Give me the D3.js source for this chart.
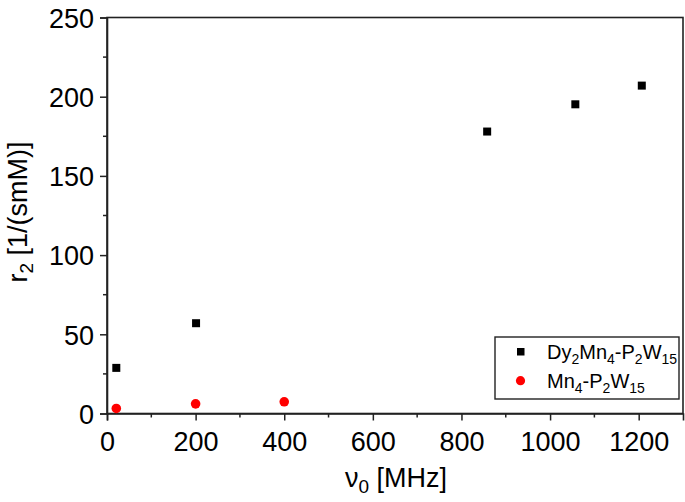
<!DOCTYPE html>
<html><head><meta charset="utf-8">
<script src="https://cdn.jsdelivr.net/npm/d3@7"></script>
<style>body{margin:0;background:#fff}svg{display:block}text{font-family:"Liberation Sans",Arial,sans-serif}</style>
</head><body>
<script>
const seriesNames = ["Dy2Mn4-P2W15", "Mn4-P2W15"];
const dyX = [21, 201, 858, 1057, 1207];
const dyY = [28.8, 57, 178, 195.2, 207];
const mnX = [21, 200, 400];
const mnY = [3.2, 6.1, 7.4];
const xTicks = [0, 200, 400, 600, 800, 1000, 1200];
const yTicks = [0, 50, 100, 150, 200, 250];

const W = 685, H = 502;
const svg = d3.select("body").append("svg").attr("width", W).attr("height", H);
const x = d3.scaleLinear().domain([0, 1300]).range([107, 683]);
const y = d3.scaleLinear().domain([0, 250]).range([413.5, 17.5]);

// frame
svg.append("rect").attr("x", x(0)).attr("y", y(250)).attr("width", x(1300) - x(0)).attr("height", y(0) - y(250))
  .attr("fill", "none").attr("stroke", "#222").attr("stroke-width", 1.6);

// minor ticks
const minorX = d3.range(100, 1300, 200);
const minorY = d3.range(25, 250, 50);
svg.append("g").selectAll("line").data(minorX).join("line")
  .attr("x1", d => x(d)).attr("x2", d => x(d)).attr("y1", y(0)).attr("y2", y(0) + 4)
  .attr("stroke", "#222").attr("stroke-width", 1.5);
svg.append("g").selectAll("line").data(minorY).join("line")
  .attr("y1", d => y(d)).attr("y2", d => y(d)).attr("x1", x(0)).attr("x2", x(0) - 4)
  .attr("stroke", "#222").attr("stroke-width", 1.5);

const xAxis = svg.append("g").attr("transform", `translate(0,${y(0)})`)
  .call(d3.axisBottom(x).tickValues(xTicks).tickSize(7).tickPadding(10).tickFormat(d3.format("d")));
const yAxis = svg.append("g").attr("transform", `translate(${x(0)},0)`)
  .call(d3.axisLeft(y).tickValues(yTicks).tickSize(7).tickPadding(6).tickFormat(d3.format("d")));
[xAxis, yAxis].forEach(a => {
  a.select(".domain").attr("stroke", "#222").attr("stroke-width", 1.6);
  a.selectAll(".tick line").attr("stroke", "#222").attr("stroke-width", 1.5);
  a.selectAll(".tick text").attr("font-size", 27).attr("fill", "#000")
    .attr("font-family", "'Liberation Sans', Arial, sans-serif");
});
xAxis.selectAll(".tick text").attr("dy", "0.76em");
yAxis.selectAll(".tick text").attr("dy", "0.36em");

// data
svg.append("g").selectAll("rect").data(dyX.map((d, i) => [d, dyY[i]])).join("rect")
  .attr("x", d => x(d[0]) - 4).attr("y", d => y(d[1]) - 4).attr("width", 8).attr("height", 8).attr("fill", "#000");
svg.append("g").selectAll("circle").data(mnX.map((d, i) => [d, mnY[i]])).join("circle")
  .attr("cx", d => x(d[0])).attr("cy", d => y(d[1])).attr("r", 4.8).attr("fill", "#ff0000");

// axis titles
const xt = svg.append("text").attr("x", 396).attr("y", 487).attr("text-anchor", "middle").attr("font-size", 27);
xt.append("tspan").text("\u03bd");
xt.append("tspan").attr("font-size", 19).attr("dy", 6).text("0");
xt.append("tspan").attr("dy", -6).text(" [MHz]");

const yt = svg.append("text").attr("transform", "translate(27,212) rotate(-90)").attr("text-anchor", "middle").attr("font-size", 27);
yt.append("tspan").text("r");
yt.append("tspan").attr("font-size", 19).attr("dy", 6).text("2");
yt.append("tspan").attr("dy", -6).text(" [1/(smM)]");

// legend
const lg = svg.append("g");
lg.append("rect").attr("x", 495).attr("y", 337).attr("width", 184).attr("height", 62)
  .attr("fill", "#fff").attr("stroke", "#222").attr("stroke-width", 1.4);
lg.append("rect").attr("x", 517).attr("y", 348).attr("width", 7.5).attr("height", 7.5).attr("fill", "#000");
lg.append("circle").attr("cx", 520.5).attr("cy", 380.7).attr("r", 4.6).attr("fill", "#ff0000");
function legendParts(name) {
  const out = []; let prevSub = false;
  name.match(/[A-Za-z\-]+|\d+/g).forEach(tok => {
    const isSub = /^\d+$/.test(tok);
    if (isSub) { out.push([tok, true, prevSub ? 0 : 5]); prevSub = true; }
    else { out.push([tok, false, prevSub ? -5 : 0]); prevSub = false; }
  });
  return out;
}
function legendText(parts, yy) {
  const tx = lg.append("text").attr("x", 547).attr("y", yy).attr("font-size", 20);
  parts.forEach(p => {
    const ts = tx.append("tspan").attr("dy", p[2]).text(p[0]);
    if (p[1]) ts.attr("font-size", 14);
  });
}
legendText(legendParts(seriesNames[0]), 359);
legendText(legendParts(seriesNames[1]), 388);
</script>
</body></html>
